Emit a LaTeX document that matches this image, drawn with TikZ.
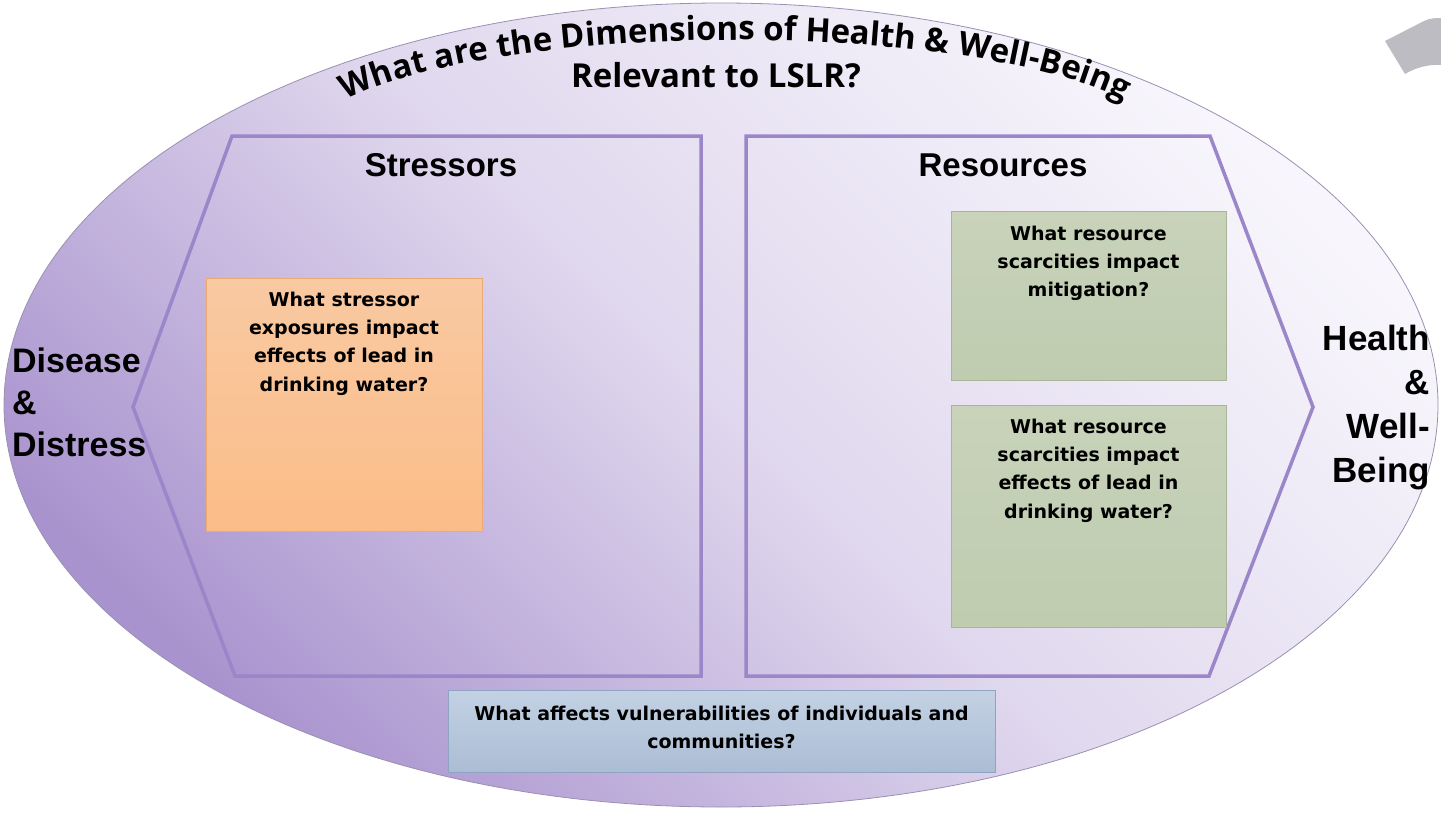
\documentclass[tikz,border=0pt]{standalone}
\usepackage{fontspec}
\setmainfont{Liberation Sans}
\newfontfamily\boxfont{DejaVu Sans}
\newfontfamily\titlefont{Open Sans}
\usetikzlibrary{shapes.geometric,decorations.text}
\definecolor{ovalline}{HTML}{9A90B2}
\definecolor{ovaltop}{HTML}{F8F6FC}
\definecolor{ovalmid}{HTML}{E0D8EE}
\definecolor{ovalbot}{HTML}{A993CE}
\definecolor{pentline}{HTML}{9A86C8}
\definecolor{orangetop}{HTML}{F9C9A2}
\definecolor{orangebot}{HTML}{FBBD88}
\definecolor{orangeline}{HTML}{EBAA72}
\definecolor{greentop}{HTML}{C8D3BA}
\definecolor{greenbot}{HTML}{BFCCAF}
\definecolor{greenline}{HTML}{A9B59B}
\definecolor{bluetop}{HTML}{C3D1E3}
\definecolor{bluebot}{HTML}{ABBDD5}
\definecolor{blueline}{HTML}{8EA4C2}
\definecolor{graypiece}{HTML}{BDBCC2}
\tikzset{
  pent/.style={draw=pentline, line width=3.5pt, line join=miter},
  head/.style={font=\bfseries\fontsize{33}{38}\selectfont, inner sep=0},
  lside/.style={font=\bfseries\fontsize{34}{42}\selectfont, inner sep=0},
  rside/.style={font=\bfseries\fontsize{35}{44}\selectfont, inner sep=0},
  qtext/.style={font=\boxfont\bfseries\fontsize{19}{28.3}\selectfont, align=center, inner sep=0},
  obox/.style={rectangle, inner sep=0, draw=orangeline, line width=0.8pt, top color=orangetop, bottom color=orangebot},
  gbox/.style={rectangle, inner sep=0, draw=greenline, line width=0.8pt, top color=greentop, bottom color=greenbot},
  bbox/.style={rectangle, inner sep=0, draw=blueline, line width=0.8pt, top color=bluetop, bottom color=bluebot}
}
\begin{document}
\begin{tikzpicture}[x=1pt,y=-1pt]
\useasboundingbox (0,0) rectangle (1441,812);
\fill[white] (0,0) rectangle (1441,812);
% outer oval
\node[ellipse, minimum width=1434pt, minimum height=804pt, inner sep=0, draw=ovalline, line width=0.8pt,
      top color=ovaltop, bottom color=ovalbot, middle color=ovalmid, shading angle=-45] (oval) at (721,405) {};
% gray piece top right
\fill[graypiece] (1385,41) -- (1424,21) .. controls (1430,18) and (1436,18) .. (1441,18)
   -- (1441,65) .. controls (1428,64) and (1415,68) .. (1405,74) -- cycle;
% curved title
\path[decorate, decoration={text along path, text align=center,
   text={|\titlefont\bfseries\fontsize{33}{38}\selectfont|What are the Dimensions of Health {\&} Well-Being}}]
   plot[domain=188:352, samples=100] ({735+430*cos(\x)}, {144.5+104.5*sin(\x)});
\node[font=\titlefont\bfseries\fontsize{33}{38}\selectfont, inner sep=0, anchor=base] (title2) at (716,87) {Relevant to LSLR?};
% stressors pentagon
\coordinate (s1) at (232,136);
\coordinate (s2) at (701,136);
\coordinate (s3) at (701,676);
\coordinate (s4) at (235,676);
\coordinate (s5) at (133,407);
\draw[pent] (s1) -- (s2) -- (s3) -- (s4) -- (s5) -- cycle;
% resources pentagon
\coordinate (r1) at (746,136);
\coordinate (r2) at (1210,136);
\coordinate (r3) at (1313,407);
\coordinate (r4) at (1209,676);
\coordinate (r5) at (746,676);
\draw[pent] (r1) -- (r2) -- (r3) -- (r4) -- (r5) -- cycle;
% headings
\node[head] (stress) at (441,165) {Stressors};
\node[head] (resour) at (1003,165) {Resources};
% side labels
\node[lside, anchor=north west, align=left] (dis) at (12,347.5) {Disease\\\&\\Distress};
\node[rside, anchor=north east, align=right] (hw) at (1430,325) {Health\\\&\\Well-\\Being};
% boxes
\node[obox, minimum width=276pt, minimum height=253pt] (orange) at (344,404.5) {};
\node[qtext, anchor=north] (orangetxt) at (344,291.5) {What stressor\\exposures impact\\effects of lead in\\drinking water?};
\node[gbox, minimum width=275pt, minimum height=169pt] (green1) at (1088.5,295.5) {};
\node[qtext, anchor=north] (green1txt) at (1088.5,225.5) {What resource\\scarcities impact\\mitigation?};
\node[gbox, minimum width=275pt, minimum height=222pt] (green2) at (1088.5,516) {};
\node[qtext, anchor=north] (green2txt) at (1088.5,418.5) {What resource\\scarcities impact\\effects of lead in\\drinking water?};
\node[bbox, minimum width=547pt, minimum height=82pt] (blue) at (721.5,731) {};
\node[qtext, anchor=north] (bluetxt) at (721.5,706) {What affects vulnerabilities of individuals and\\communities?};
\end{tikzpicture}
\end{document}
